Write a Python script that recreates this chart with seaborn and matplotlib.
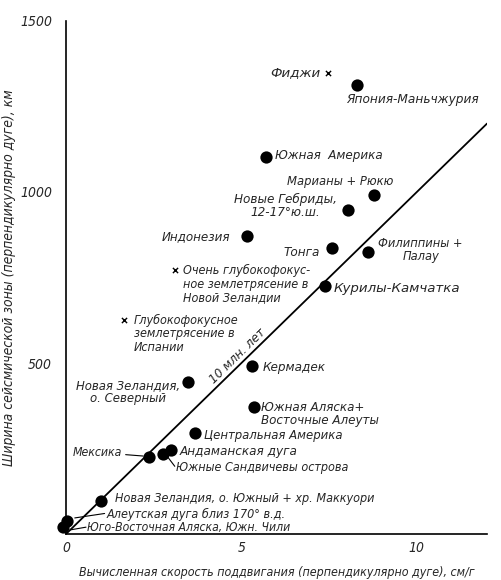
import matplotlib
matplotlib.use("Agg")
import matplotlib.pyplot as plt
import seaborn as sns
import pandas as pd

# ---- data ----
names = ["Япония-Маньчжурия", "Южная Америка", "Марианы+Рюкю", "Новые Гебриды",
         "Индонезия", "Тонга", "Филиппины+Палау", "Курилы-Камчатка",
         "Новая Зеландия, о. Северный", "Кермадек", "Южная Аляска+Восточные Алеуты",
         "Центральная Америка", "Андаманская дуга", "Южные Сандвичевы острова", "Мексика",
         "Новая Зеландия, о. Южный", "Алеутская дуга", "Юго-Восточная Аляска"]
velocity = [8.29, 5.69, 8.77, 8.03, 5.17, 7.57, 8.60, 7.37, 3.49, 5.31, 5.37,
            3.69, 3.00, 2.77, 2.37, 1.00, 0.03, -0.09]
width = [1313, 1102, 991, 947, 871, 836, 825, 725, 444, 491, 371,
         295, 246, 234, 225, 96, 38, 20]

quake_names = ["Фиджи", "Очень глубокофокусное землетрясение в Новой Зеландии",
               "Глубокофокусное землетрясение в Испании"]
quake_velocity = [7.46, 3.11, 1.66]
quake_width = [1348, 772, 626]

line_velocity = [0, 12]
line_years = 10  # млн. лет
line_width = [v * line_years * 10 for v in line_velocity]  # см/г * 10 млн лет -> км

x_ticks = [0, 5, 10]
y_ticks = [500, 1000, 1500]

# ---- style ----
sns.set_style("white")
plt.rcParams["font.family"] = ["DejaVu Sans"]
plt.rcParams["font.style"] = "italic"
plt.rcParams["font.stretch"] = "condensed"

fig = plt.figure(figsize=(5.02, 5.8), dpi=100)
ax = fig.add_axes([0.1315, 0.0793, 0.8386, 0.8845])

arcs = pd.DataFrame({"v": velocity, "w": width})
quakes = pd.DataFrame({"v": quake_velocity, "w": quake_width})
line = pd.DataFrame({"v": line_velocity, "w": line_width})

sns.lineplot(data=line, x="v", y="w", color="black", lw=1.3, ax=ax)
sns.scatterplot(data=arcs, x="v", y="w", color="black", s=78, edgecolor="black",
                linewidth=0, ax=ax, clip_on=False, zorder=5)
sns.scatterplot(data=quakes, x="v", y="w", color="black", marker="x", s=14,
                linewidth=1.0, ax=ax, zorder=5)

ax.set_xlim(0, 12)
ax.set_ylim(0, 1500)
for s in ["top", "right"]:
    ax.spines[s].set_visible(False)
for s in ["left", "bottom"]:
    ax.spines[s].set_color("black")
    ax.spines[s].set_linewidth(1.2)

ax.set_xticks(range(0, 13))
ax.set_xticklabels([str(t) if t in x_ticks else "" for t in range(0, 13)])
ax.set_yticks(range(0, 1501, 100))
ax.set_yticklabels([str(t) if t in y_ticks else "" for t in range(0, 1501, 100)])
ax.tick_params(axis="y", direction="in", length=7, width=1, pad=10, labelsize=10)
ax.tick_params(axis="x", direction="in", length=4, width=1, pad=5, labelsize=10)

ax.set_xlabel("Вычисленная скорость поддвигания (перпендикулярно дуге), см/г",
              fontsize=8.9, labelpad=8)
ax.set_ylabel("Ширина сейсмической зоны (перпендикулярно дуге), км",
              fontsize=10, labelpad=3)

def lab(text, x, y, ha="left", va="center", fs=9.3, **kw):
    ax.text(x, y, text, ha=ha, va=va, fontsize=fs, linespacing=1.05, **kw)

W = dict(fontstretch="normal")
lab("Фиджи", 7.26, 1348, ha="right", fs=9.6, **W)
lab("Япония-Маньчжурия", 7.97, 1269, fs=9.7)
lab("Южная  Америка", 5.97, 1108, fs=9.5)
lab("Марианы + Рюкю", 6.31, 1032)
lab("Новые Гебриды,\n12-17°ю.ш.", 6.26, 959, ha="center", multialignment="center", fs=9.6)
lab("Индонезия", 4.69, 871, ha="right", fs=9.5)
lab("Тонга", 7.23, 822, ha="right", fs=9.6)
lab("Филиппины +\nПалау", 10.11, 830, ha="center", multialignment="center", fs=9.2)
lab("Курилы-Камчатка", 7.63, 719, fs=9.6, **W)
lab("Очень глубокофокус-\nное землетрясение в\nНовой Зеландии", 3.34, 731, fs=9)
lab("Глубокофокусное\nземлетрясение в\nИспании", 1.94, 585, fs=9)
lab("Новая Зеландия,\nо. Северный", 1.77, 415, ha="center", multialignment="center", fs=9.4)
lab("Кермадек", 5.6, 488, fs=9.6)
lab("Южная Аляска+\nВосточные Алеуты", 5.57, 351, fs=9.5)
lab("Центральная Америка", 3.94, 289, fs=9.4)
lab("Андаманская дуга", 3.23, 240, fs=9.6)
lab("Южные Сандвичевы острова", 3.14, 193, fs=9)
lab("Мексика", 1.6, 237, ha="right", fs=8.8)
lab("Новая Зеландия, о. Южный + хр. Маккуори", 1.4, 105, fs=9)
lab("Алеутская дуга близ 170° в.д.", 1.15, 58, fs=9)
lab("Юго-Восточная Аляска, Южн. Чили", 0.6, 20, fs=8.7)

ax.text(4.9, 520, "10 млн. лет", rotation=44.4, ha="center", va="center",
        fontsize=9.5, rotation_mode="anchor")

# leader lines
def leader(x0, y0, x1, y1):
    ax.annotate("", xy=(x1, y1), xytext=(x0, y0),
                arrowprops=dict(arrowstyle="-", color="black", lw=0.8,
                                shrinkA=0, shrinkB=0), annotation_clip=False)

leader(1.7, 232, 2.2, 228)
leader(2.9, 225, 3.1, 198)
leader(0.25, 47, 1.1, 60)
leader(0.12, 12, 0.57, 20)

fig.savefig("out.png", dpi=100)
